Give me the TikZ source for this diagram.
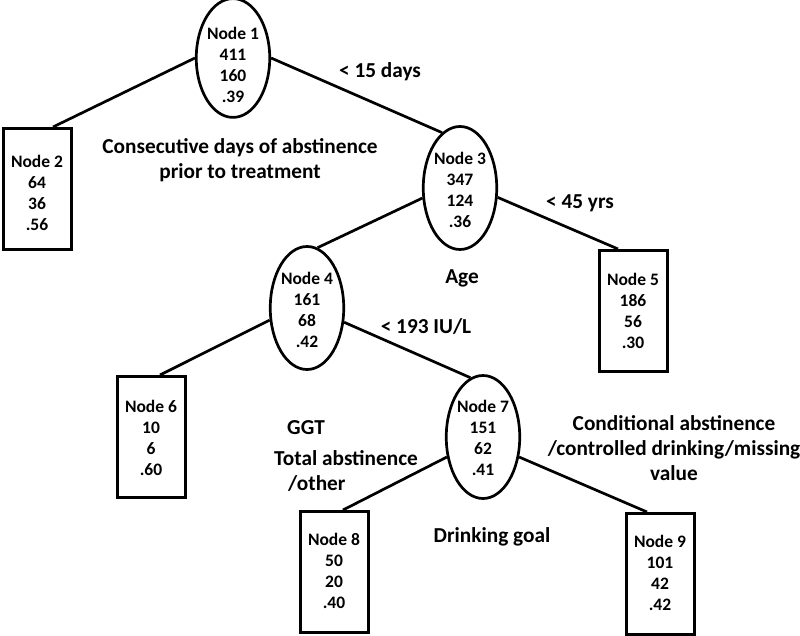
\documentclass[tikz,border=0pt]{standalone}
\usepackage{fontspec}
\setmainfont{Carlito}
\usetikzlibrary{shapes.geometric, positioning}
\tikzset{
    splitNode/.style={ellipse, draw, line width=2.7pt, inner sep=0pt, minimum width=73pt, minimum height=123pt, font=\bfseries\fontsize{17.5}{21}\selectfont},
    leafNode/.style={rectangle, draw, line width=3pt, inner sep=0pt, minimum width=68pt, minimum height=121pt, font=\bfseries\fontsize{17.5}{21}\selectfont},
    treeEdge/.style={line width=2.7pt},
    splitLabel/.style={align=center, inner sep=0pt, font=\bfseries\fontsize{21.3}{25}\selectfont},
}
% node text, lowered a little inside its shape
\newcommand{\nodeText}[2][-4pt]{\raisebox{#1}[\height][\depth]{\begin{tabular}{@{}c@{}}#2\end{tabular}}}
\newcommand{\drawBranch}[2]{
    \draw[treeEdge] (#1) -- (#2);
}

\begin{document}
\begin{tikzpicture}[x=1pt, y=-1pt]

        \useasboundingbox (0,0) rectangle (800,636);

        % split nodes
        \node[splitNode, minimum height=115pt] (N1) at (233, 58) {\nodeText[-9pt]{Node 1\\411\\160\\.39}};
        \node[splitNode] (N3) at (460, 188) {\nodeText{Node 3\\347\\124\\.36}};
        \node[splitNode] (N4) at (307, 308) {\nodeText{Node 4\\161\\68\\.42}};
        \node[splitNode] (N7) at (483, 437) {\nodeText[-3pt]{Node 7\\151\\62\\.41}};

        % leaves
        \node[leafNode] (N2) at (37, 189) {\nodeText[-6pt]{Node 2\\64\\36\\.56}};
        \node[leafNode] (N5) at (633, 311) {\nodeText[-2pt]{Node 5\\186\\56\\.30}};
        \node[leafNode] (N6) at (151, 437) {\nodeText[-3pt]{Node 6\\10\\6\\.60}};
        \node[leafNode] (N8) at (334, 572) {\nodeText[-1pt]{Node 8\\50\\20\\.40}};
        \node[leafNode] (N9) at (660, 574) {\nodeText[-1pt]{Node 9\\101\\42\\.42}};

        \drawBranch{N1.west}{[xshift=16pt]N2.north}
        \drawBranch{N1.east}{N3.108}
        \drawBranch{N3.195}{N4.80}
        \drawBranch{N3.-14}{[xshift=-15pt]N5.north}
        \drawBranch{N4.198}{[xshift=9pt]N6.north}
        \drawBranch{N4.-21}{N7.102}
        \drawBranch{N7.209}{[xshift=9pt]N8.north}
        \drawBranch{N7.-29}{[xshift=-13pt]N9.north}

        % split variables and cut points
        \node[splitLabel] (cut1) at (380, 72) {< 15 days};
        \node[splitLabel] (var1) at (240, 160) {Consecutive days of abstinence\\prior to treatment};
        \node[splitLabel] (cut3) at (580, 203) {< 45 yrs};
        \node[splitLabel] (var3) at (462, 278) {Age};
        \node[splitLabel] (cut4) at (426, 327) {< 193 IU/L};
        \node[splitLabel] (var4) at (306, 428) {GGT};
        \node[splitLabel, align=left, anchor=west] (cut7a) at (274, 471) {Total abstinence\\\hspace{14pt}/other};
        \node[splitLabel] (cut7b) at (674, 448) {Conditional abstinence\\/controlled drinking/missing\\value};
        \node[splitLabel] (var7) at (492, 537) {Drinking goal};

    \end{tikzpicture}
\end{document}
